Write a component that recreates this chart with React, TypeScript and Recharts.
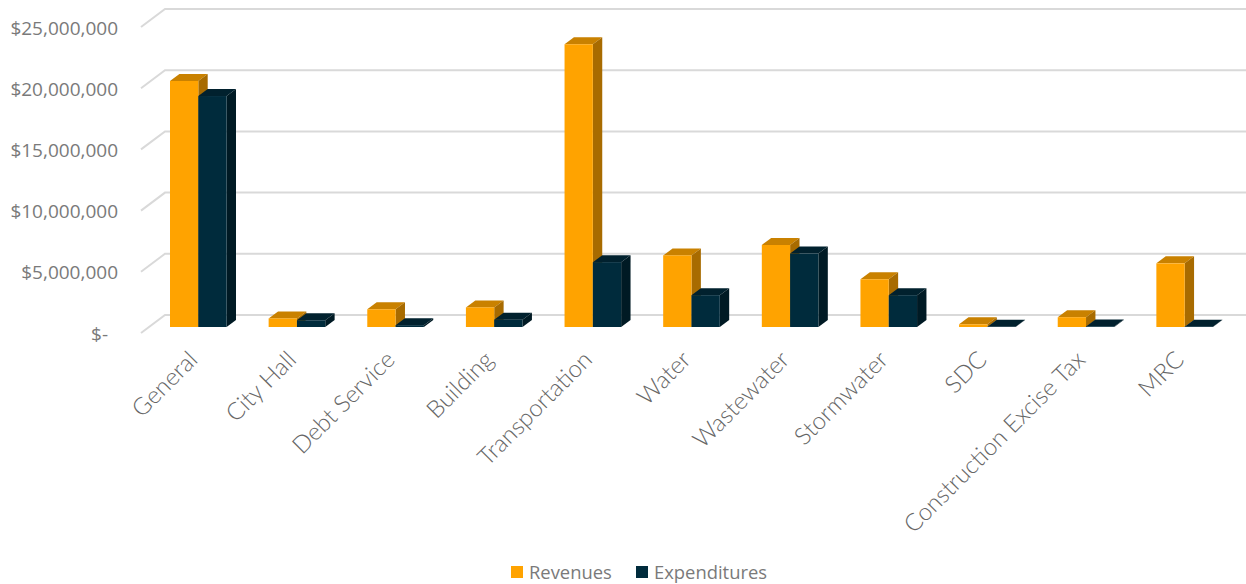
import React from 'react';
import { BarChart, Bar, XAxis, YAxis, CartesianGrid, Legend } from 'recharts';

const categories = ['General', 'City Hall', 'Debt Service', 'Building', 'Transportation', 'Water', 'Wastewater', 'Stormwater', 'SDC', 'Construction Excise Tax', 'MRC'];
const revenues = [20100000, 700000, 1450000, 1600000, 23100000, 5850000, 6700000, 3900000, 220000, 800000, 5200000];
const expenditures = [18870000, 550000, 150000, 600000, 5300000, 2600000, 6000000, 2600000, 20000, 50000, 30000];
const yTicks = [0, 5000000, 10000000, 15000000, 20000000, 25000000];

const data = categories.map((name, i) => ({ name, Revenues: revenues[i], Expenditures: expenditures[i] }));

const DX = 9.4;
const DY = 7;

const make3D = (front: string, top: string, side: string) => (props: any) => {
  const { x, y, width, height } = props;
  return (
    <g>
      <polygon points={`${x},${y} ${x + DX},${y - DY} ${x + width + DX},${y - DY} ${x + width},${y}`} fill={top} />
      <polygon points={`${x + width},${y} ${x + width + DX},${y - DY} ${x + width + DX},${y + height - DY} ${x + width},${y + height}`} fill={side} />
      <rect x={x} y={y} width={width} height={height} fill={front} />
    </g>
  );
};

const gridLine = (props: any) => {
  const { x1, x2, y1 } = props;
  return (
    <polyline
      key={`g-${y1}`}
      points={`${x1 - 8},${y1 + 6} ${x1 + 16},${y1 - 12} ${x2 + 12},${y1 - 12}`}
      fill="none"
      stroke="#D9D9D9"
      strokeWidth={2}
    />
  );
};

const YTick = (props: any) => {
  const { y, payload } = props;
  const v = payload.value as number;
  const label = v === 0 ? '$-' : '$' + v.toLocaleString('en-US');
  return (
    <text x={v === 0 ? 108 : 118} y={y + 7} dy="0.35em" textAnchor="end" fontFamily="'Open Sans'" fontSize={19} fill="#7a7a7a">
      {label}
    </text>
  );
};

const XTick = (props: any) => {
  const { x, payload } = props;
  const tx = x - 3.5;
  const ty = 357;
  return (
    <text x={tx} y={ty} textAnchor="end" transform={`rotate(-45 ${tx} ${ty})`} fontFamily="Lato" fontWeight={300} fontSize={24} fill="#666666" dominantBaseline="middle">
      {payload.value}
    </text>
  );
};

const LegendContent = () => (
  <div style={{ position: 'relative', height: 24, fontFamily: "'Open Sans'", fontSize: 18.4, color: '#7a7a7a' }}>
    <span style={{ position: 'absolute', left: 511, top: 6, width: 12, height: 12, background: '#FFA300' }} />
    <span style={{ position: 'absolute', left: 529, top: 0, lineHeight: '24px' }}>Revenues</span>
    <span style={{ position: 'absolute', left: 636, top: 6, width: 12, height: 12, background: '#002B3C' }} />
    <span style={{ position: 'absolute', left: 654, top: 0, lineHeight: '24px' }}>Expenditures</span>
  </div>
);

export default function App() {
  return (
    <div style={{ position: 'absolute', left: 0, top: 0, width: 1246, height: 584, background: '#fff' }}>
      <BarChart width={1246} height={584} data={data} margin={{ top: 21, right: 12, bottom: 33, left: 0 }} barSize={28.3} barGap={0}>
        <CartesianGrid vertical={false} horizontal={gridLine} syncWithTicks />
        <XAxis dataKey="name" height={200} axisLine={false} tickLine={false} interval={0} tick={XTick} />
        <YAxis width={149} domain={[0, 25000000]} ticks={yTicks} axisLine={false} tickLine={false} tick={YTick} />
        <Legend verticalAlign="bottom" height={24} wrapperStyle={{ left: 0, width: 1246, bottom: 0 }} content={LegendContent} />
        <Bar dataKey="Revenues" fill="#FFA300" isAnimationActive={false} shape={make3D('#FFA300', '#C98100', '#A86B00')} />
        <Bar dataKey="Expenditures" fill="#002B3C" isAnimationActive={false} shape={make3D('#002B3C', '#01212E', '#001A24')} />
      </BarChart>
    </div>
  );
}
